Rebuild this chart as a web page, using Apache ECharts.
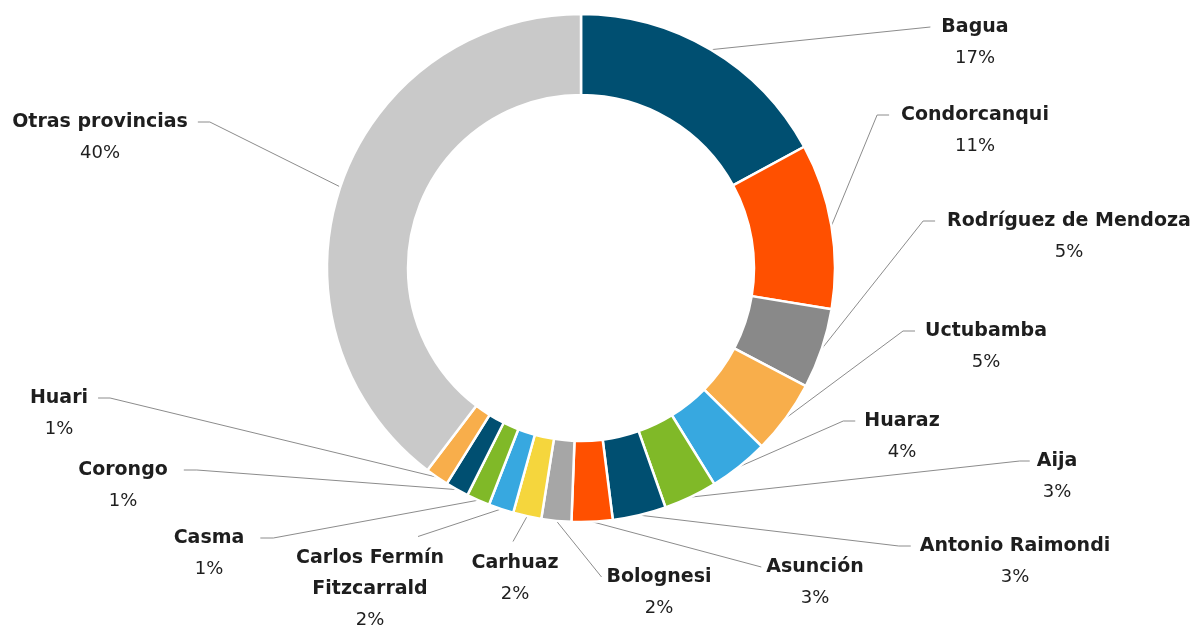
<!DOCTYPE html>
<html>
<head>
<meta charset="utf-8">
<title>Provincias</title>
<script src="https://cdn.jsdelivr.net/npm/echarts@6/dist/echarts.min.js"></script>
<style>
  html, body { margin: 0; padding: 0; background: #fff; }
  #chart { width: 1199px; height: 630px; }
</style>
</head>
<body>
<div id="chart"></div>
<script>
var provincias = ['Bagua', 'Condorcanqui', 'Rodríguez de Mendoza', 'Uctubamba', 'Huaraz', 'Aija',
  'Antonio Raimondi', 'Asunción', 'Bolognesi', 'Carhuaz', 'Carlos Fermín\nFitzcarrald', 'Casma',
  'Corongo', 'Huari', 'Otras provincias']
var valores = [17.08, 10.52, 5.1, 4.7, 3.8, 3.4, 3.4, 2.6, 1.9, 1.8, 1.6, 1.48, 1.48, 1.48, 39.66]
var colores = ['#004f71', '#ff5000', '#898989', '#f8ae4b', '#37a8e0', '#80b928', '#004f71', '#ff5000',
  '#a6a6a6', '#f5d63d', '#37a8e0', '#80b928', '#004f71', '#f8ae4b', '#c9c9c9']

// where each label sits: [center x, first line y, side the leader reaches, elbow, gap]
var labelPlace = [
  [975, 27, 'l', 0, 11],
  [975, 115, 'l', 12, 12],
  [1069, 221, 'l', 12, 12],
  [986, 331, 'l', 12, 10],
  [902, 421, 'l', 12, 9],
  [1057, 461, 'l', 10, 7],
  [1015, 546, 'l', 12, 9],
  [815, 567, 'l', 0, 5],
  [659, 577, 'l', 0, 5],
  [515, 563, 't', -2, 6],
  [370, 558, 't', 48, 6],
  [209, 538, 'r', 13, 16],
  [123, 470, 'r', 13, 16],
  [59, 398, 'r', 12, 10],
  [100, 122, 'r', 12, 10]
]

var chart = echarts.init(document.getElementById('chart'))

var data = provincias.map(function(name, i) {
  return { name: name, value: valores[i], itemStyle: { color: colores[i] } }
})

chart.setOption({
  backgroundColor: '#fff',
  animation: false,
  series: [
    {
      type: 'pie',
      center: [581, 268],
      radius: [173, 254],
      startAngle: 90,
      clockwise: true,
      avoidLabelOverlap: false,
      silent: true,
      itemStyle: {
        borderColor: '#fff',
        borderWidth: 2.5
      },
      label: {
        show: true,
        position: 'outside',
        color: '#1e1e1e',
        formatter: function(params) {
          return '{n|' + params.name + '}\n{p|' + Math.round(params.percent) + '%}'
        },
        rich: {
          n: {
            fontFamily: 'DejaVu Sans',
            fontWeight: 'bold',
            fontSize: 19,
            lineHeight: 31,
            color: '#1e1e1e',
            align: 'center'
          },
          p: {
            fontFamily: 'DejaVu Sans',
            fontSize: 18,
            lineHeight: 31,
            color: '#1e1e1e',
            align: 'center'
          }
        }
      },
      labelLine: {
        show: true,
        lineStyle: {
          color: '#8c8c8c',
          width: 1
        }
      },
      labelLayout: function(params) {
        var p = labelPlace[params.dataIndex]
        var w = params.labelRect.width
        var top = p[1] - 15.5
        var start = params.labelLinePoints[0].slice()
        var end, bend
        if (p[2] === 'l') {
          end = [p[0] - w / 2 - p[4], p[1]]
          bend = [end[0] - p[3], p[1]]
        } else if (p[2] === 'r') {
          end = [p[0] + w / 2 + p[4], p[1]]
          bend = [end[0] + p[3], p[1]]
        } else {
          end = [p[0] + p[3], top - p[4]]
          bend = end
        }
        return {
          x: p[0],
          y: top,
          align: 'center',
          verticalAlign: 'top',
          labelLinePoints: [start, bend, end]
        }
      },
      data: data
    }
  ]
})
</script>
</body>
</html>
